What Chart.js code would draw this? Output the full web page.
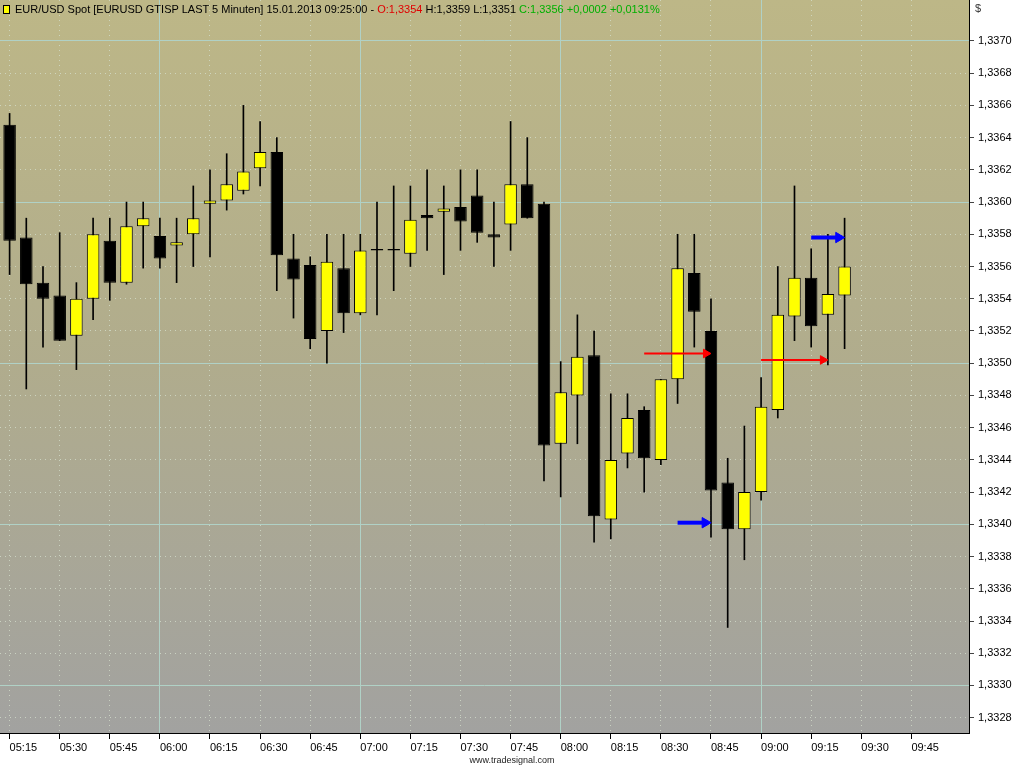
<!DOCTYPE html>
<html>
<head>
<meta charset="utf-8">
<title>EUR/USD Spot 5 Minuten</title>
<script src="https://cdn.jsdelivr.net/npm/chart.js@4.4.1/dist/chart.umd.min.js"></script>
<style>
body { margin: 0; background: #fff; }
#wrap { position: relative; width: 1024px; height: 768px; }
#hdr { position: absolute; left: 3px; top: 3px; font: 11px "Liberation Sans", sans-serif; color: #000; white-space: nowrap; }
#hdr .ico { display: inline-block; position: relative; width: 5px; height: 7px; background: #ff0; border: 1px solid #000; margin: 0 5px 0 0; vertical-align: -1px; }
#hdr .red { color: #e00000; }
#hdr .green { color: #00b000; }
#cur { position: absolute; left: 975px; top: 2px; font: 11px "Liberation Sans", sans-serif; color: #333; }
#site { position: absolute; left: 0; width: 1024px; top: 755px; text-align: center; font: 9px "Liberation Sans Narrow", "Liberation Sans", sans-serif; color: #222; }
</style>
</head>
<body>
<div id="wrap">
  <canvas id="chart" width="1024" height="768"></canvas>
  <div id="hdr"><span class="ico"></span>EUR/USD Spot [EURUSD GTISP LAST 5 Minuten] 15.01.2013 09:25:00 - <span class="red">O:1,3354</span> H:1,3359 L:1,3351 <span class="green">C:1,3356 +0,0002 +0,0131%</span></div>
  <div id="cur">$</div>
  <div id="site">www.tradesignal.com</div>
</div>
<script>
//x axis labels, one every 3 candles (15 min)
const xTickLabels = ['05:15','05:30','05:45','06:00','06:15','06:30','06:45','07:00','07:15','07:30',
                     '07:45','08:00','08:15','08:30','08:45','09:00','09:15','09:30','09:45']
const yTickValues = [1.3328,1.3330,1.3332,1.3334,1.3336,1.3338,1.3340,1.3342,1.3344,1.3346,1.3348,
                     1.3350,1.3352,1.3354,1.3356,1.3358,1.3360,1.3362,1.3364,1.3366,1.3368,1.3370]

//5 minute candles 05:15 .. 09:25
const opens  = [1.33648,1.33578,1.33550,1.33542,1.33517,1.33540,1.33576,1.33550,1.33585,1.33579,
                1.33573,1.33580,1.33599,1.33601,1.33607,1.33621,1.33631,1.33565,1.33561,1.33520,
                1.33559,1.33531,1.33570,1.33570,1.33568,1.33592,1.33594,1.33597,1.33604,1.33580,
                1.33586,1.33611,1.33599,1.33450,1.33480,1.33505,1.33403,1.33444,1.33471,1.33440,
                1.33490,1.33556,1.33520,1.33426,1.33397,1.33420,1.33471,1.33529,1.33553,1.33530,
                1.33542]
const highs  = [1.33655,1.33590,1.33560,1.33581,1.33550,1.33590,1.33590,1.33600,1.33600,1.33590,
                1.33590,1.33610,1.33620,1.33630,1.33660,1.33650,1.33640,1.33580,1.33566,1.33580,
                1.33580,1.33580,1.33600,1.33610,1.33610,1.33620,1.33610,1.33620,1.33620,1.33600,
                1.33650,1.33640,1.33600,1.33501,1.33530,1.33520,1.33481,1.33481,1.33473,1.33490,
                1.33580,1.33580,1.33540,1.33441,1.33461,1.33491,1.33560,1.33610,1.33571,1.33580,
                1.33590]
const lows   = [1.33555,1.33484,1.33510,1.33514,1.33496,1.33527,1.33539,1.33549,1.33559,1.33559,
                1.33550,1.33560,1.33566,1.33595,1.33605,1.33610,1.33545,1.33528,1.33509,1.33500,
                1.33519,1.33530,1.33530,1.33545,1.33560,1.33570,1.33555,1.33570,1.33575,1.33560,
                1.33570,1.33590,1.33427,1.33417,1.33450,1.33389,1.33391,1.33435,1.33420,1.33437,
                1.33475,1.33510,1.33392,1.33336,1.33378,1.33415,1.33466,1.33514,1.33510,1.33499,
                1.33509]
const closes = [1.33576,1.33549,1.33540,1.33514,1.33540,1.33580,1.33550,1.33585,1.33590,1.33565,
                1.33575,1.33590,1.33601,1.33611,1.33619,1.33631,1.33567,1.33552,1.33515,1.33563,
                1.33531,1.33570,1.33570,1.33570,1.33589,1.33590,1.33596,1.33588,1.33581,1.33578,
                1.33611,1.33590,1.33449,1.33482,1.33504,1.33405,1.33440,1.33466,1.33441,1.33490,
                1.33559,1.33532,1.33421,1.33397,1.33420,1.33473,1.33530,1.33553,1.33523,1.33543,
                1.33560]

//signal arrows: [from candle, head candle, price]
const redArrows  = [[38, 41.7, 1.33506], [45, 48.7, 1.33502]]
const blueArrows = [[40, 41.65, 1.33401], [48, 49.65, 1.33578]]

const wicks = lows.map((l, i) => ({x: i, y: [l, highs[i]]}))
const bodies = opens.map((o, i) => ({x: i, y: [o, closes[i]]}))
const bodyColors = opens.map((o, i) => closes[i] > o ? '#ffff00' : '#000000')

//arrow as a 2 point line with a triangle head on the last point
arrowSet = function(a, color, width, head) {
    return {
        type: 'line',
        data: [{x: a[0], y: a[2]}, {x: a[1], y: a[2]}],
        borderColor: color,
        borderWidth: width,
        pointRadius: [0, head],
        pointStyle: 'triangle',
        pointRotation: 90,
        pointBackgroundColor: color,
        pointBorderColor: color,
        pointBorderWidth: 1,
        order: 0
    }
}

const solidGrid = '#b0d1c6'
const dotGrid = 'rgba(214,224,206,0.75)'

//background gradient behind the candles
const bgPlugin = {
    id: 'bg',
    beforeDraw(chart) {
        const {ctx, chartArea: a} = chart
        const g = ctx.createLinearGradient(0, a.top, 0, a.bottom)
        g.addColorStop(0, '#bdb787')
        g.addColorStop(0.5, '#b0ac8d')
        g.addColorStop(1, '#a2a2a0')
        ctx.save()
        ctx.fillStyle = g
        ctx.fillRect(a.left, a.top, a.right - a.left, a.bottom - a.top)
        ctx.restore()
    }
}

const xMajor = c => c.type === 'tick' && c.index % 4 === 3
const yMajor = c => c.type === 'tick' && c.tick && Math.round(c.tick.value * 10000) % 10 === 0

const config = {
    type: 'bar',
    data: {
        datasets: [
            {
                label: 'wick',
                data: wicks,
                backgroundColor: '#000000',
                borderWidth: 0,
                barThickness: 1,
                grouped: false,
                order: 2
            },
            {
                label: 'body',
                data: bodies,
                backgroundColor: bodyColors,
                borderColor: '#000000',
                borderWidth: 1,
                borderSkipped: false,
                minBarLength: 1.5,
                barPercentage: 0.75,
                categoryPercentage: 1,
                grouped: false,
                order: 1
            },
            ...redArrows.map(a => arrowSet(a, '#ff0000', 2, 5)),
            ...blueArrows.map(a => arrowSet(a, '#0000ff', 4, 6))
        ]
    },
    options: {
        responsive: false,
        animation: false,
        devicePixelRatio: 1,
        layout: {padding: 0, autoPadding: false},
        plugins: {
            legend: {display: false},
            tooltip: {enabled: false}
        },
        scales: {
            x: {
                type: 'linear',
                min: -0.575,
                max: 57.45,
                offset: false,
                afterBuildTicks: s => { s.ticks = xTickLabels.map((t, i) => ({value: i * 3})) },
                afterFit: s => { s.height = 35; s.paddingLeft = 0; s.paddingRight = 0 },
                ticks: {
                    autoSkip: false,
                    maxRotation: 0,
                    align: 'start',
                    padding: 2,
                    color: '#000',
                    font: {family: 'Liberation Sans', size: 11},
                    callback: (v, i) => xTickLabels[i]
                },
                grid: {
                    offset: false,
                    color: c => xMajor(c) ? solidGrid : dotGrid,
                    tickLength: 6,
                    tickColor: '#000'
                },
                border: {
                    color: '#000',
                    width: 1,
                    dash: c => (c.type !== 'tick' || xMajor(c)) ? [] : [1, 4]
                }
            },
            y: {
                position: 'right',
                min: 1.332705,
                max: 1.337254,
                afterBuildTicks: s => { s.ticks = yTickValues.map(v => ({value: v})) },
                afterFit: s => { s.width = 55; s.paddingTop = 0; s.paddingBottom = 0 },
                ticks: {
                    padding: 4,
                    color: '#000',
                    font: {family: 'Liberation Sans', size: 11},
                    callback: v => v.toFixed(4).replace('.', ',')
                },
                grid: {
                    color: c => yMajor(c) ? solidGrid : dotGrid,
                    tickLength: 5,
                    tickColor: '#444'
                },
                border: {
                    color: '#000',
                    width: 1,
                    dash: c => (c.type !== 'tick' || yMajor(c)) ? [] : [1, 4]
                }
            }
        }
    },
    plugins: [bgPlugin]
}

const chart = new Chart(document.getElementById('chart'), config)
</script>
</body>
</html>
